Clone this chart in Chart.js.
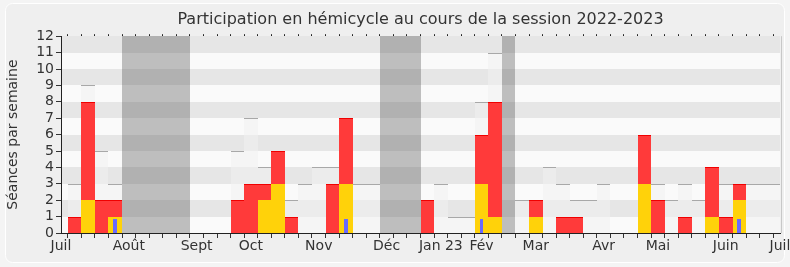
<!DOCTYPE html>
<html>
<head>
<meta charset="utf-8">
<script src="https://cdn.jsdelivr.net/npm/chart.js@4/dist/chart.umd.min.js"></script>
<style>
  html, body { margin: 0; padding: 0; background: #f4f4f4; overflow: hidden; }
  canvas { display: block; }
</style>
</head>
<body>
<canvas id="c" width="790" height="267"></canvas>
<script>
// Week index 0..53 (session juillet 2022 -> juillet 2023)
const weeks = Array.from({length: 54}, (_, i) => String(i));

// Séances de l'hémicycle dans la semaine (barre gris clair)
const seancesTotal = [0,3,9,5,3,0,0,0,0,0, 0,0,0,5,7,4,5,2,3,4, 4,7,3,3,0,0,0,2,3,1, 1,8,11,0,2,2,4,3,2,2, 3,0,0,6,3,2,3,2,4,3, 3,3,3,3];
// Présences en hémicycle (rouge)
const presences   = [0,1,8,2,2,0,0,0,0,0, 0,0,0,2,3,3,5,1,0,0, 3,7,0,0,0,0,0,2,0,0, 0,6,8,0,0,2,0,1,1,0, 0,0,0,6,2,0,1,0,4,1, 3,0,0,0];
// Interventions (jaune)
const interventions = [0,0,2,0,1,0,0,0,0,0, 0,0,0,0,0,2,3,0,0,0, 0,3,0,0,0,0,0,0,0,0, 0,3,1,0,0,1,0,0,0,0, 0,0,0,3,0,0,0,0,1,0, 2,0,0,0];
// Questions orales (bleu)
const questions   = [0,0,0,0,0.85,0,0,0,0,0, 0,0,0,0,0,0,0,0,0,0, 0,0.85,0,0,0,0,0,0,0,0, 0,0.85,0,0,0,0,0,0,0,0, 0,0,0,0,0,0,0,0,0,0, 0.85,0,0,0];
// Vacances parlementaires (1 = semaine de vacances)
const vacances    = [0,0,0,0,0,1,1,1,1,1, 0,0,0,0,0,0,0,0,0,0, 0,0,0,0,1,1,1,0,0,0, 0,0,0,1,0,0,0,0,0,0, 0,0,0,0,0,0,0,0,0,0, 0,0,0,0];

// Mois : semaine d'ancrage et libellé
const monthWeeks  = [0, 5, 10, 14, 19, 24, 28, 31, 35, 40, 44, 49, 53];
const monthLabels = ['Juil','Août','Sept','Oct','Nov','Déc','Jan 23','Fév','Mar','Avr','Mai','Juin','Juil'];

const yTicks = [0,1,2,3,4,5,6,7,8,9,10,11,12];

const FONT = 'DejaVu Sans';
const TXT = '#333333';
const nz = (arr) => arr.map(v => v ? v : null);

const bgPlugin = {
  id: 'bg',
  beforeDraw(chart) {
    const ctx = chart.ctx;
    ctx.save();
    ctx.fillStyle = '#f4f4f4';
    ctx.fillRect(0, 0, chart.width, chart.height);
    ctx.beginPath();
    ctx.roundRect(5.5, 3.5, 779, 259, 7);
    ctx.fillStyle = '#efefef';
    ctx.fill();
    ctx.strokeStyle = '#ffffff';
    ctx.lineWidth = 1;
    ctx.stroke();
    const a = chart.chartArea, y = chart.scales.y, x = chart.scales.x;
    for (let k = 0; k < 12; k++) {
      const top = Math.round(y.getPixelForValue(k + 1)), bot = Math.round(y.getPixelForValue(k));
      ctx.fillStyle = (k % 2 === 1) ? '#e6e6e6' : '#fafafa';
      ctx.fillRect(a.left, top, a.right - a.left, bot - top);
    }
    // vacation bands, contiguous runs of weeks
    ctx.fillStyle = 'rgba(76,76,76,0.35)';
    let i = 0;
    while (i < vacances.length) {
      if (vacances[i]) {
        let j = i;
        while (j + 1 < vacances.length && vacances[j + 1]) j++;
        const x0 = Math.round(x.getPixelForValue(i - 0.5));
        const x1 = Math.round(x.getPixelForValue(j + 0.5));
        ctx.fillRect(x0, Math.round(a.top), x1 - x0, Math.round(a.bottom) - Math.round(a.top));
        i = j + 1;
      } else i++;
    }
    ctx.strokeStyle = '#c8c8c8';
    ctx.beginPath();
    ctx.moveTo(Math.round(a.right) + 1.5, a.top);
    ctx.lineTo(Math.round(a.right) + 1.5, a.bottom);
    ctx.stroke();
    ctx.restore();
  }
};

// snap bar elements (computed by the library) to whole pixels for crisp edges
const snapPlugin = {
  id: 'snap',
  beforeDatasetsDraw(chart) {
    chart.data.datasets.forEach((ds, di) => {
      chart.getDatasetMeta(di).data.forEach(el => {
        if (el.skip || el.y == null || isNaN(el.y)) return;
        const l = Math.round(el.x - el.width / 2), r = Math.round(el.x + el.width / 2);
        el.x = (l + r) / 2; el.width = Math.max(1, r - l);
        el.y = Math.round(el.y); el.base = Math.round(el.base);
        el.height = el.base - el.y;
      });
    });
  }
};

// thin line on top of each bar (drawn right after its own dataset)
const topLinePlugin = {
  id: 'topLine',
  afterDatasetDraw(chart, args) {
    const ds = chart.data.datasets[args.index];
    if (!ds.topLine) return;
    const ctx = chart.ctx, a = chart.chartArea;
    ctx.save();
    ctx.beginPath();
    ctx.rect(a.left, a.top, a.right - a.left, a.bottom - a.top);
    ctx.clip();
    ctx.strokeStyle = ds.topLine;
    ctx.lineWidth = 1;
    args.meta.data.forEach((el, k) => {
      if (!ds.data[k]) return;
      const yy = Math.round(el.y) + 0.5;
      ctx.beginPath();
      ctx.moveTo(el.x - el.width / 2, yy);
      ctx.lineTo(el.x + el.width / 2, yy);
      ctx.stroke();
    });
    ctx.restore();
  }
};

const noPad = (s) => { s.paddingLeft = 0; s.paddingRight = 0; };

new Chart(document.getElementById('c'), {
  type: 'bar',
  data: {
    labels: weeks,
    datasets: [
      { label: 'Questions', data: nz(questions), backgroundColor: '#6a6aff', barPercentage: 0.27, categoryPercentage: 1 },
      { label: 'Interventions', data: nz(interventions), backgroundColor: '#ffd20a', barPercentage: 1, categoryPercentage: 1 },
      { label: 'Présences', data: nz(presences), backgroundColor: '#ff3a3a', topLine: '#f00000', barPercentage: 1, categoryPercentage: 1 },
      { label: 'Séances', data: nz(seancesTotal), backgroundColor: 'rgba(241,241,241,0.55)', topLine: '#a8a8a8', barPercentage: 1, categoryPercentage: 1 }
    ]
  },
  options: {
    responsive: false,
    animation: false,
    devicePixelRatio: 1,
    datasets: { bar: { grouped: false, borderWidth: 0, inflateAmount: 0 } },
    layout: { padding: { left: 0, right: 10, top: 0, bottom: 0 } },
    plugins: {
      legend: { display: false },
      tooltip: { enabled: false },
      title: {
        display: true,
        fullSize: false,
        text: 'Participation en hémicycle au cours de la session 2022-2023',
        color: TXT,
        font: { family: FONT, size: 16, weight: 'normal' },
        padding: { top: 10, bottom: 5 }
      }
    },
    scales: {
      x: {
        type: 'category',
        offset: false,
        position: 'bottom',
        grid: { display: true, drawOnChartArea: false, drawTicks: true, tickLength: 5, color: TXT },
        border: { display: true, color: '#222' },
        ticks: {
          autoSkip: false, maxRotation: 0, minRotation: 0, padding: 0,
          color: TXT, font: { family: FONT, size: 14 },
          callback: (v, i) => { const j = monthWeeks.indexOf(i); return j >= 0 ? monthLabels[j] : ''; }
        },
        afterFit: (s) => { noPad(s); s.height = 34; }
      },
      x2: {
        type: 'category',
        offset: false,
        position: 'top',
        grid: { display: true, drawOnChartArea: false, drawTicks: true, tickLength: 2, color: '#222' },
        border: { display: false },
        ticks: { display: false },
        afterFit: (s) => { noPad(s); s.height = 2; }
      },
      y: {
        min: 0, max: 12,
        afterBuildTicks: (s) => { s.ticks = yTicks.map(v => ({ value: v })); },
        grid: { display: true, drawOnChartArea: false, drawTicks: true, tickLength: 5, color: TXT },
        border: { display: true, color: '#222' },
        ticks: { autoSkip: false, color: TXT, padding: 2, font: { family: FONT, size: 14 } },
        title: { display: true, text: 'Séances par semaine', color: TXT, font: { family: FONT, size: 14 }, padding: { top: 5, bottom: 0 } },
        afterFit: (s) => { s.width = 61; }
      }
    }
  },
  plugins: [bgPlugin, snapPlugin, topLinePlugin]
});
</script>
</body>
</html>
